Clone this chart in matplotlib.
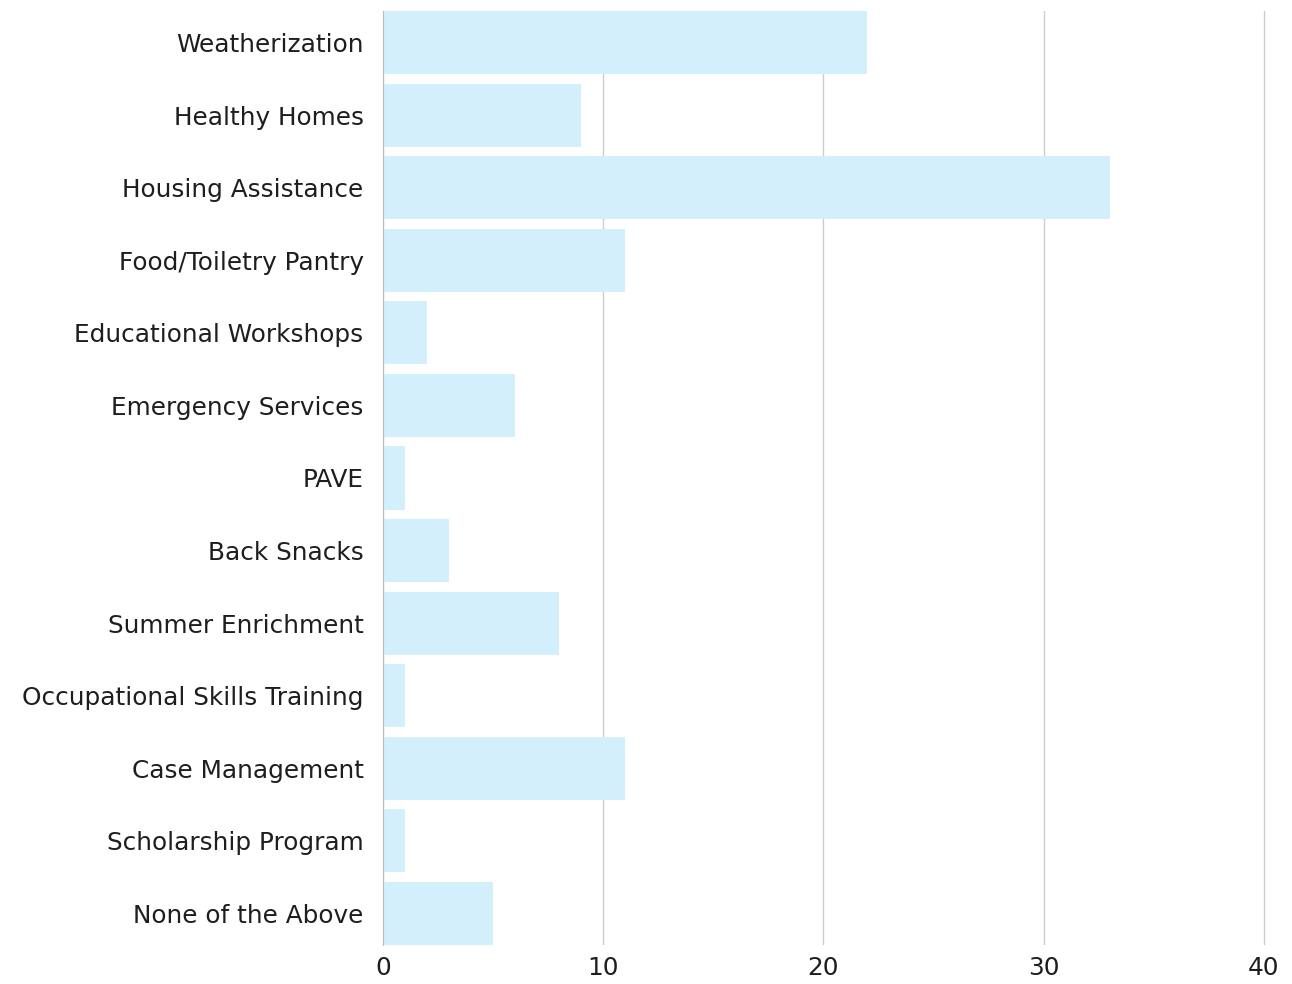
import matplotlib
matplotlib.use('Agg')
import matplotlib.pyplot as plt

categories = ["Weatherization", "Healthy Homes", "Housing Assistance", "Food/Toiletry Pantry",
              "Educational Workshops", "Emergency Services", "PAVE", "Back Snacks",
              "Summer Enrichment", "Occupational Skills Training", "Case Management",
              "Scholarship Program", "None of the Above"]
values = [22, 9, 33, 11, 2, 6, 1, 3, 8, 1, 11, 1, 5]
xticks = [0, 10, 20, 30, 40]

plt.rcParams['font.family'] = ['DejaVu Sans']

fig = plt.figure(figsize=(12.92, 9.84), dpi=100)
ax = fig.add_axes([383 / 1292, 1 - 945 / 984, (1266 - 383) / 1292, (945 - 11) / 984])

h = 0.87
pos = list(range(len(categories)))
ax.barh(pos, values, height=h, color='#d3effc', zorder=2)

ax.set_ylim(len(categories) - 1 + h / 2, -h / 2)
ax.set_xlim(0, 40.1)
ax.set_xticks(xticks)
ax.set_yticks(pos)
ax.set_yticklabels(categories)
ax.tick_params(axis='both', length=0, labelsize=17.8, colors='#1e1e1e')
ax.tick_params(axis='y', pad=14)
ax.tick_params(axis='x', pad=8)
ax.grid(axis='x', color='#cccccc', linewidth=1, zorder=0)
for s in ['top', 'right', 'bottom']:
    ax.spines[s].set_visible(False)
ax.spines['left'].set_color('#bbbbbb')
ax.spines['left'].set_zorder(3)

fig.savefig('out.png', dpi=100, facecolor='white')
